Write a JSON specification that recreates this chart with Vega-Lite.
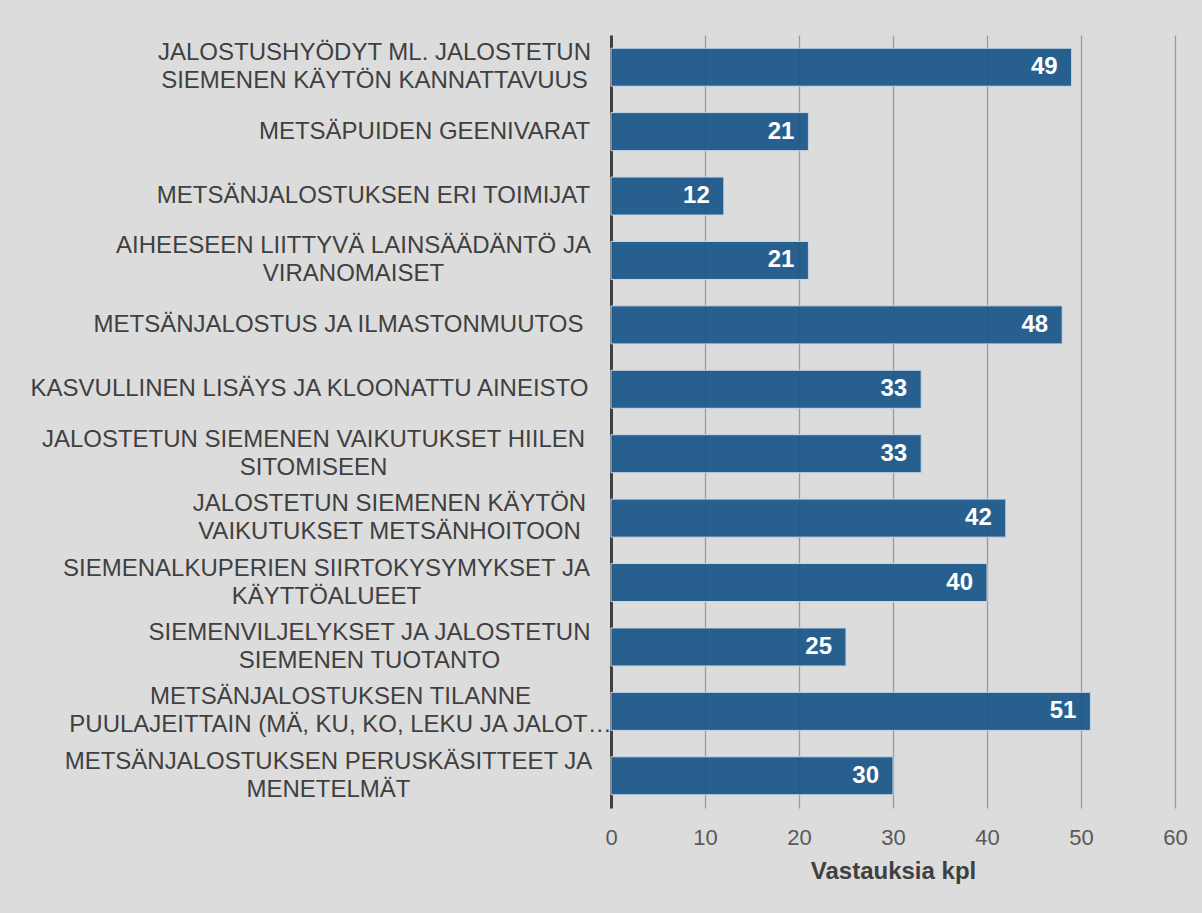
{
  "$schema": "https://vega.github.io/schema/vega-lite/v6.json",
  "width": 564,
  "height": 773,
  "autosize": {"type": "none"},
  "padding": {"left": 611, "top": 35, "right": 27, "bottom": 105},
  "background": "#dcdcdc",
  "config": {
    "view": {"stroke": null},
    "font": "Liberation Sans",
    "axis": {"labelFont": "Liberation Sans", "titleFont": "Liberation Sans"},
    "text": {"font": "Liberation Sans"}
  },
  "data": {
    "values": [
      {"aihe": "JALOSTUSHYÖDYT ML. JALOSTETUN|SIEMENEN KÄYTÖN KANNATTAVUUS", "kpl": 49},
      {"aihe": "METSÄPUIDEN GEENIVARAT", "kpl": 21},
      {"aihe": "METSÄNJALOSTUKSEN ERI TOIMIJAT", "kpl": 12},
      {"aihe": "AIHEESEEN LIITTYVÄ LAINSÄÄDÄNTÖ JA|VIRANOMAISET", "kpl": 21},
      {"aihe": "METSÄNJALOSTUS JA ILMASTONMUUTOS", "kpl": 48},
      {"aihe": "KASVULLINEN LISÄYS JA KLOONATTU AINEISTO", "kpl": 33},
      {"aihe": "JALOSTETUN SIEMENEN VAIKUTUKSET HIILEN|SITOMISEEN", "kpl": 33},
      {"aihe": "JALOSTETUN SIEMENEN KÄYTÖN|VAIKUTUKSET METSÄNHOITOON", "kpl": 42},
      {"aihe": "SIEMENALKUPERIEN SIIRTOKYSYMYKSET JA|KÄYTTÖALUEET", "kpl": 40},
      {"aihe": "SIEMENVILJELYKSET JA JALOSTETUN|SIEMENEN TUOTANTO", "kpl": 25},
      {"aihe": "METSÄNJALOSTUKSEN TILANNE|PUULAJEITTAIN (MÄ, KU, KO, LEKU JA JALOT…", "kpl": 51},
      {"aihe": "METSÄNJALOSTUKSEN PERUSKÄSITTEET JA|MENETELMÄT", "kpl": 30}
    ]
  },
  "encoding": {
    "y": {
      "field": "aihe",
      "type": "nominal",
      "sort": null,
      "scale": {"paddingInner": 0.41, "paddingOuter": 0.205},
      "axis": {
        "title": null,
        "ticks": false,
        "tickSize": 0,
        "grid": false,
        "domain": true,
        "domainColor": "#404040",
        "domainWidth": 3,
        "labelExpr": "split(datum.value, '|')",
        "labelAlign": "center",
        "labelBaseline": "middle",
        "labelFont": "Liberation Sans",
        "labelFontSize": 24,
        "labelColor": "#404040",
        "labelLineHeight": 28,
        "labelLimit": 700,
        "labelOffset": {"expr": "test(/[|]/, datum.value) ? -14 : 0"},
        "labelPadding": {"expr": "test(/^JALOSTUSHY/, datum.value) ? 237 : test(/^METSÄPUIDEN/, datum.value) ? 187 : test(/^METSÄNJALOSTUKSEN ERI/, datum.value) ? 238 : test(/^AIHEESEEN/, datum.value) ? 258 : test(/^METSÄNJALOSTUS JA/, datum.value) ? 273 : test(/^KASVULLINEN/, datum.value) ? 302 : test(/^JALOSTETUN SIEMENEN VAIK/, datum.value) ? 298 : test(/^JALOSTETUN SIEMENEN K/, datum.value) ? 222 : test(/^SIEMENALKU/, datum.value) ? 285 : test(/^SIEMENVIL/, datum.value) ? 242 : test(/^METSÄNJALOSTUKSEN TILANNE/, datum.value) ? 271 : 283"}
      }
    },
    "x": {
      "field": "kpl",
      "type": "quantitative",
      "scale": {"domain": [0, 60], "nice": false},
      "axis": {
        "title": "Vastauksia kpl",
        "titleFont": "Liberation Sans",
        "titleFontSize": 24,
        "titleFontWeight": "bold",
        "titleColor": "#404040",
        "titlePadding": 11,
        "values": [0, 10, 20, 30, 40, 50, 60],
        "domain": false,
        "ticks": false,
        "labelFont": "Liberation Sans",
        "labelFontSize": 22,
        "labelColor": "#595959",
        "labelFlush": false,
        "labelPadding": 19,
        "grid": true,
        "gridColor": {"condition": {"test": "datum.value == 0", "value": "transparent"}, "value": "#9a9a9a"},
        "gridWidth": 1.3
      }
    }
  },
  "layer": [
    {
      "mark": {"type": "bar", "color": "#1c5889", "fillOpacity": 0.95, "stroke": "#c8d6e6", "strokeWidth": 1}
    },
    {
      "mark": {"type": "text", "align": "right", "baseline": "middle", "dx": -14, "font": "Liberation Sans", "fontSize": 24, "fontWeight": "bold", "color": "#ffffff"},
      "encoding": {"text": {"field": "kpl", "type": "quantitative"}}
    }
  ]
}
